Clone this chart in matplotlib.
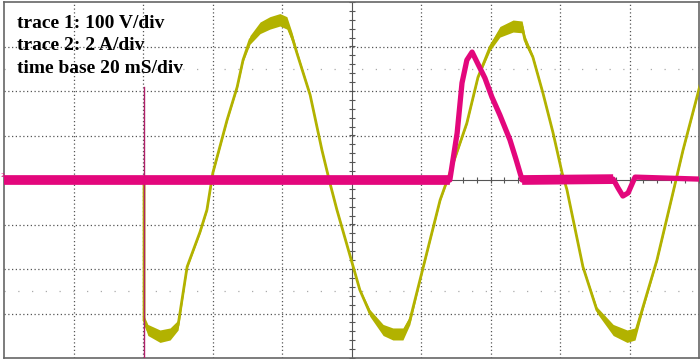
import numpy as np
import matplotlib
matplotlib.use("Agg")
import matplotlib.pyplot as plt

# escala do osciloscopio
v_div = 100   # V/div
i_div = 2     # A/div
t_div = 20    # ms/div

# traco 1: tensao (V) x tempo (ms)
t_v = [0, 40.3, 40.3, 41.4, 44.9, 47.8, 50.1, 52.7, 56.4, 58.4, 60.1, 64.2, 67.1,
       68.8, 70.8, 73.7, 76.5, 79.4, 81.4, 82.9, 84.3, 88.1, 91.5, 93.8, 95.8,
       102.4, 105.3, 109.1, 111.9, 114.8, 116.8, 119.7, 125.5, 128.3, 133.2,
       136.4, 139.9, 142.7, 146.5, 149.1, 149.9, 152.2, 155.1, 158.0, 160.6,
       162.0, 166.6, 170.6, 175.3, 179.3, 181.6, 183.9, 187.9, 192.5, 195.4, 200.3]
tensao = [0, 0, -315, -337, -351, -346, -326, -195, -117, -67, 16, 135, 209,
          270, 315, 342, 353, 360, 353, 321, 285, 191, 67, -7, -67,
          -247, -299, -337, -346, -346, -315, -225, -45, 16, 128,
          231, 299, 333, 346, 344, 315, 276, 195, 106, 16,
          -22, -195, -292, -337, -351, -346, -285, -180, -29, 67, 213]

# traco 2: corrente (A) x tempo (ms)
t_i = [0, 128.3, 130.4, 131.8, 133.2, 134.7, 136.4,
       138.4, 140.4, 142.7, 145.6, 147.3, 149.1, 175.3, 176.7, 178.1, 179.6,
       181.6, 200.3]
corrente = [0, 0, 2.11, 4.36, 5.39, 5.75, 5.21,
            4.58, 3.73, 2.92, 1.80, 0.95, 0, 0.04, -0.36, -0.72, -0.58,
            0.13, 0.04]

# pico de corrente no disparo
t_pico = [40.3, 40.3]
i_pico = [4.18, -8.0]

legenda = ["trace 1: 100 V/div", "trace 2: 2 A/div", "time base 20 mS/div"]

amarelo = "#b2b200"
rosa = "#e3077c"

fig = plt.figure(figsize=(7, 3.6), dpi=100)
ax = fig.add_axes([4 / 700, 2 / 360, 695 / 700, 356 / 360])
ax.set_xlim(0, 10)
ax.set_ylim(-4, 4)
ax.set_xticks([])
ax.set_yticks([])
for s in ax.spines.values():
    s.set_color("#666666")
    s.set_linewidth(1.2)

# grade pontilhada
for x in range(1, 10):
    if x != 5:
        ax.axvline(x, color="#555555", lw=0.9, ls=(0, (1, 2)), zorder=1)
for y in range(-3, 4):
    if y != 0:
        ax.axhline(y, color="#555555", lw=0.9, ls=(0, (1, 2)), zorder=1)
for y in (-2.5, 2.5):
    ax.axhline(y, color="#aaaaaa", lw=0.9, ls=(0, (1, 10)), zorder=1)

# eixos centrais com marcas
ax.axvline(5, color="#555555", lw=0.8, zorder=1)
ax.axhline(0, color="#555555", lw=0.8, zorder=1)
marcas_x = np.arange(0, 10.01, 0.2)
marcas_y = np.arange(-4, 4.01, 0.2)
ax.plot(marcas_x, np.zeros_like(marcas_x), "|", color="#555555", ms=5, mew=0.8, zorder=1)
ax.plot(np.full_like(marcas_y, 5), marcas_y, "_", color="#555555", ms=5, mew=0.8, zorder=1)

# tracos
tv = np.array(t_v) / t_div
vv = np.array(tensao) / v_div
ti = np.array(t_i) / t_div
ii = np.array(corrente) / i_div

# faixa de ruido mais larga perto dos picos
meia = 0.03 + 0.11 * np.clip((np.abs(vv) - 2.6) / 0.9, 0, 1)
ax.plot(tv, vv, color=amarelo, lw=2.0, solid_joinstyle="round", zorder=3)
ax.fill_between(tv, vv - meia, vv + meia, color=amarelo, lw=0, zorder=3)

ax.plot(t_pico / np.float64(t_div), np.array(i_pico) / i_div, color="#b0206a", lw=1.0, zorder=4)
ax.plot(ti, ii, color=rosa, lw=3.8, solid_joinstyle="round", zorder=4)
base = np.where(np.abs(ii) < 0.05, ii, np.nan)
ax.plot(ti, base, color=rosa, lw=7, solid_capstyle="butt", zorder=4)

for k, txt in enumerate(legenda):
    fig.text(17 / 700, 1 - (28 + 22.5 * k) / 360, txt, family="Liberation Serif",
             weight="bold", fontsize=14, color="black", va="baseline")

fig.text(0.5 / 700, 1 - 177 / 360, "2", color=rosa, fontsize=4.5, va="baseline")

fig.savefig("out.png", dpi=100)
